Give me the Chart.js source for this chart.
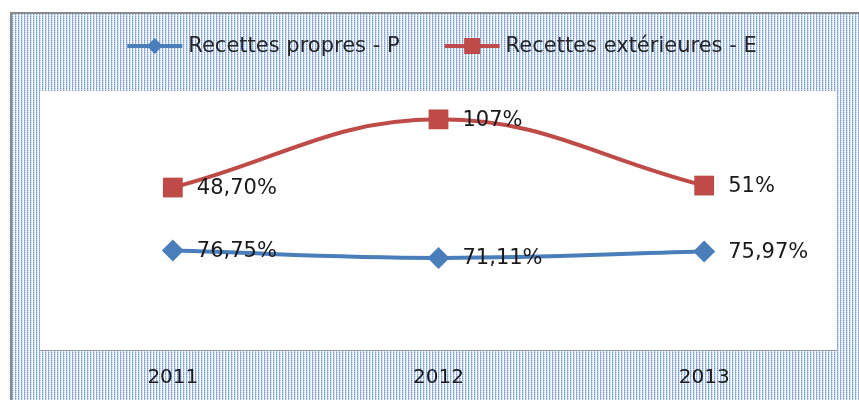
<!DOCTYPE html>
<html>
<head>
<meta charset="utf-8">
<script src="https://cdn.jsdelivr.net/npm/chart.js@4/dist/chart.umd.min.js"></script>
<style>
html, body { margin: 0; padding: 0; background: #fff; overflow: hidden; }
</style>
</head>
<body>
<canvas id="chart" width="859" height="400"></canvas>
<script>
// donnees
var annees = ['2011', '2012', '2013'];
var recettesPropres = [76.75, 71.11, 75.97];
var recettesExterieures = [48.70, 107, 51];
var etiquettesPropres = ['76,75%', '71,11%', '75,97%'];
var etiquettesExterieures = ['48,70%', '107%', '51%'];

var bleu = '#4a7ebb';
var rouge = '#be4b48';
var police = '"DejaVu Sans", sans-serif';

// motif pointille bleu du fond (comme Excel)
function motifFond(ctx) {
    var c = document.createElement('canvas');
    c.width = 3; c.height = 2;
    var p = c.getContext('2d');
    p.fillStyle = '#ffffff'; p.fillRect(0, 0, 3, 2);
    p.fillStyle = '#7298d2'; p.fillRect(0, 0, 1, 1);
    p.fillStyle = '#aac1e7'; p.fillRect(0, 1, 1, 1);
    p.fillStyle = '#cddbf1'; p.fillRect(1, 0, 1, 1);
    p.fillStyle = '#e6eef9'; p.fillRect(1, 1, 1, 1);
    return ctx.createPattern(c, 'repeat');
}

var fondPlugin = {
    id: 'fond',
    beforeDraw: function (chart) {
        var ctx = chart.ctx;
        var ca = chart.chartArea;
        ctx.save();
        ctx.fillStyle = '#fff';
        ctx.fillRect(0, 0, chart.width, chart.height);
        ctx.fillStyle = motifFond(ctx);
        ctx.fillRect(11, 13, chart.width, chart.height);
        ctx.strokeStyle = '#8a8a8a';
        ctx.lineWidth = 2;
        ctx.beginPath();
        ctx.moveTo(11, chart.height);
        ctx.lineTo(11, 13);
        ctx.lineTo(chart.width, 13);
        ctx.stroke();
        ctx.fillStyle = '#fff';
        ctx.fillRect(ca.left, ca.top, ca.right - ca.left, ca.bottom - ca.top);
        ctx.restore();
    }
};

// etiquettes de valeurs a droite des points
var etiquettesPlugin = {
    id: 'etiquettes',
    afterDatasetsDraw: function (chart) {
        var ctx = chart.ctx;
        var textes = [etiquettesPropres, etiquettesExterieures];
        ctx.save();
        ctx.font = '21px ' + police;
        ctx.fillStyle = '#1a1a1a';
        ctx.textAlign = 'left';
        ctx.textBaseline = 'middle';
        chart.data.datasets.forEach(function (ds, i) {
            chart.getDatasetMeta(i).data.forEach(function (pt, j) {
                ctx.fillText(textes[i][j], pt.x + 24, pt.y + 1);
            });
        });
        ctx.restore();
    }
};

// legende facon Excel : trait + marqueur
var legendePlugin = {
    id: 'legende',
    afterDraw: function (chart) {
        var ctx = chart.ctx;
        var y = 46;
        var trait = 55, ecart = 6, entre = 45;
        ctx.save();
        ctx.font = '21px ' + police;
        var ds = chart.data.datasets;
        var total = 0;
        ds.forEach(function (d, i) {
            total += trait + ecart + ctx.measureText(d.label).width;
            if (i > 0) total += entre;
        });
        var x = 442 - total / 2;
        ds.forEach(function (d, i) {
            ctx.strokeStyle = d.borderColor;
            ctx.lineWidth = 4;
            ctx.beginPath();
            ctx.moveTo(x, y);
            ctx.lineTo(x + trait, y);
            ctx.stroke();
            var cx = x + trait / 2;
            ctx.fillStyle = d.borderColor;
            ctx.beginPath();
            if (d.pointStyle === 'rectRot') {
                ctx.moveTo(cx - 8, y);
                ctx.lineTo(cx, y - 8);
                ctx.lineTo(cx + 8, y);
                ctx.lineTo(cx, y + 8);
                ctx.closePath();
            } else {
                ctx.rect(cx - 8, y - 8, 16, 16);
            }
            ctx.fill();
            ctx.fillStyle = '#262626';
            ctx.textAlign = 'left';
            ctx.textBaseline = 'middle';
            ctx.fillText(d.label, x + trait + ecart, y + 1);
            x += trait + ecart + ctx.measureText(d.label).width + entre;
        });
        ctx.restore();
    }
};

var ctx = document.getElementById('chart');

var chart = new Chart(ctx, {
    type: 'line',
    data: {
        labels: annees,
        datasets: [{
            label: 'Recettes propres - P',
            data: recettesPropres,
            borderColor: bleu,
            backgroundColor: bleu,
            borderWidth: 4,
            tension: 0.4,
            pointStyle: 'rectRot',
            pointRadius: 11,
            pointBorderWidth: 0
        }, {
            label: 'Recettes extérieures - E',
            data: recettesExterieures,
            borderColor: rouge,
            backgroundColor: rouge,
            borderWidth: 4,
            tension: 0.4,
            pointStyle: 'rect',
            pointRadius: 14,
            pointBorderWidth: 0
        }]
    },
    options: {
        responsive: false,
        animation: false,
        layout: {
            padding: { left: 40, right: 22, top: 91, bottom: 11 }
        },
        plugins: {
            legend: { display: false },
            tooltip: { enabled: false }
        },
        scales: {
            x: {
                offset: true,
                grid: { display: false, drawTicks: false },
                border: { display: true, color: '#9a9a9a', width: 1 },
                ticks: {
                    padding: 16,
                    color: '#1a1a1a',
                    font: { family: police, size: 20 }
                },
                afterFit: function (scale) {
                    scale.height = 39;
                }
            },
            y: {
                display: false,
                stacked: true,
                min: 0,
                max: 200
            }
        }
    },
    plugins: [fondPlugin, etiquettesPlugin, legendePlugin]
});
</script>
</body>
</html>
